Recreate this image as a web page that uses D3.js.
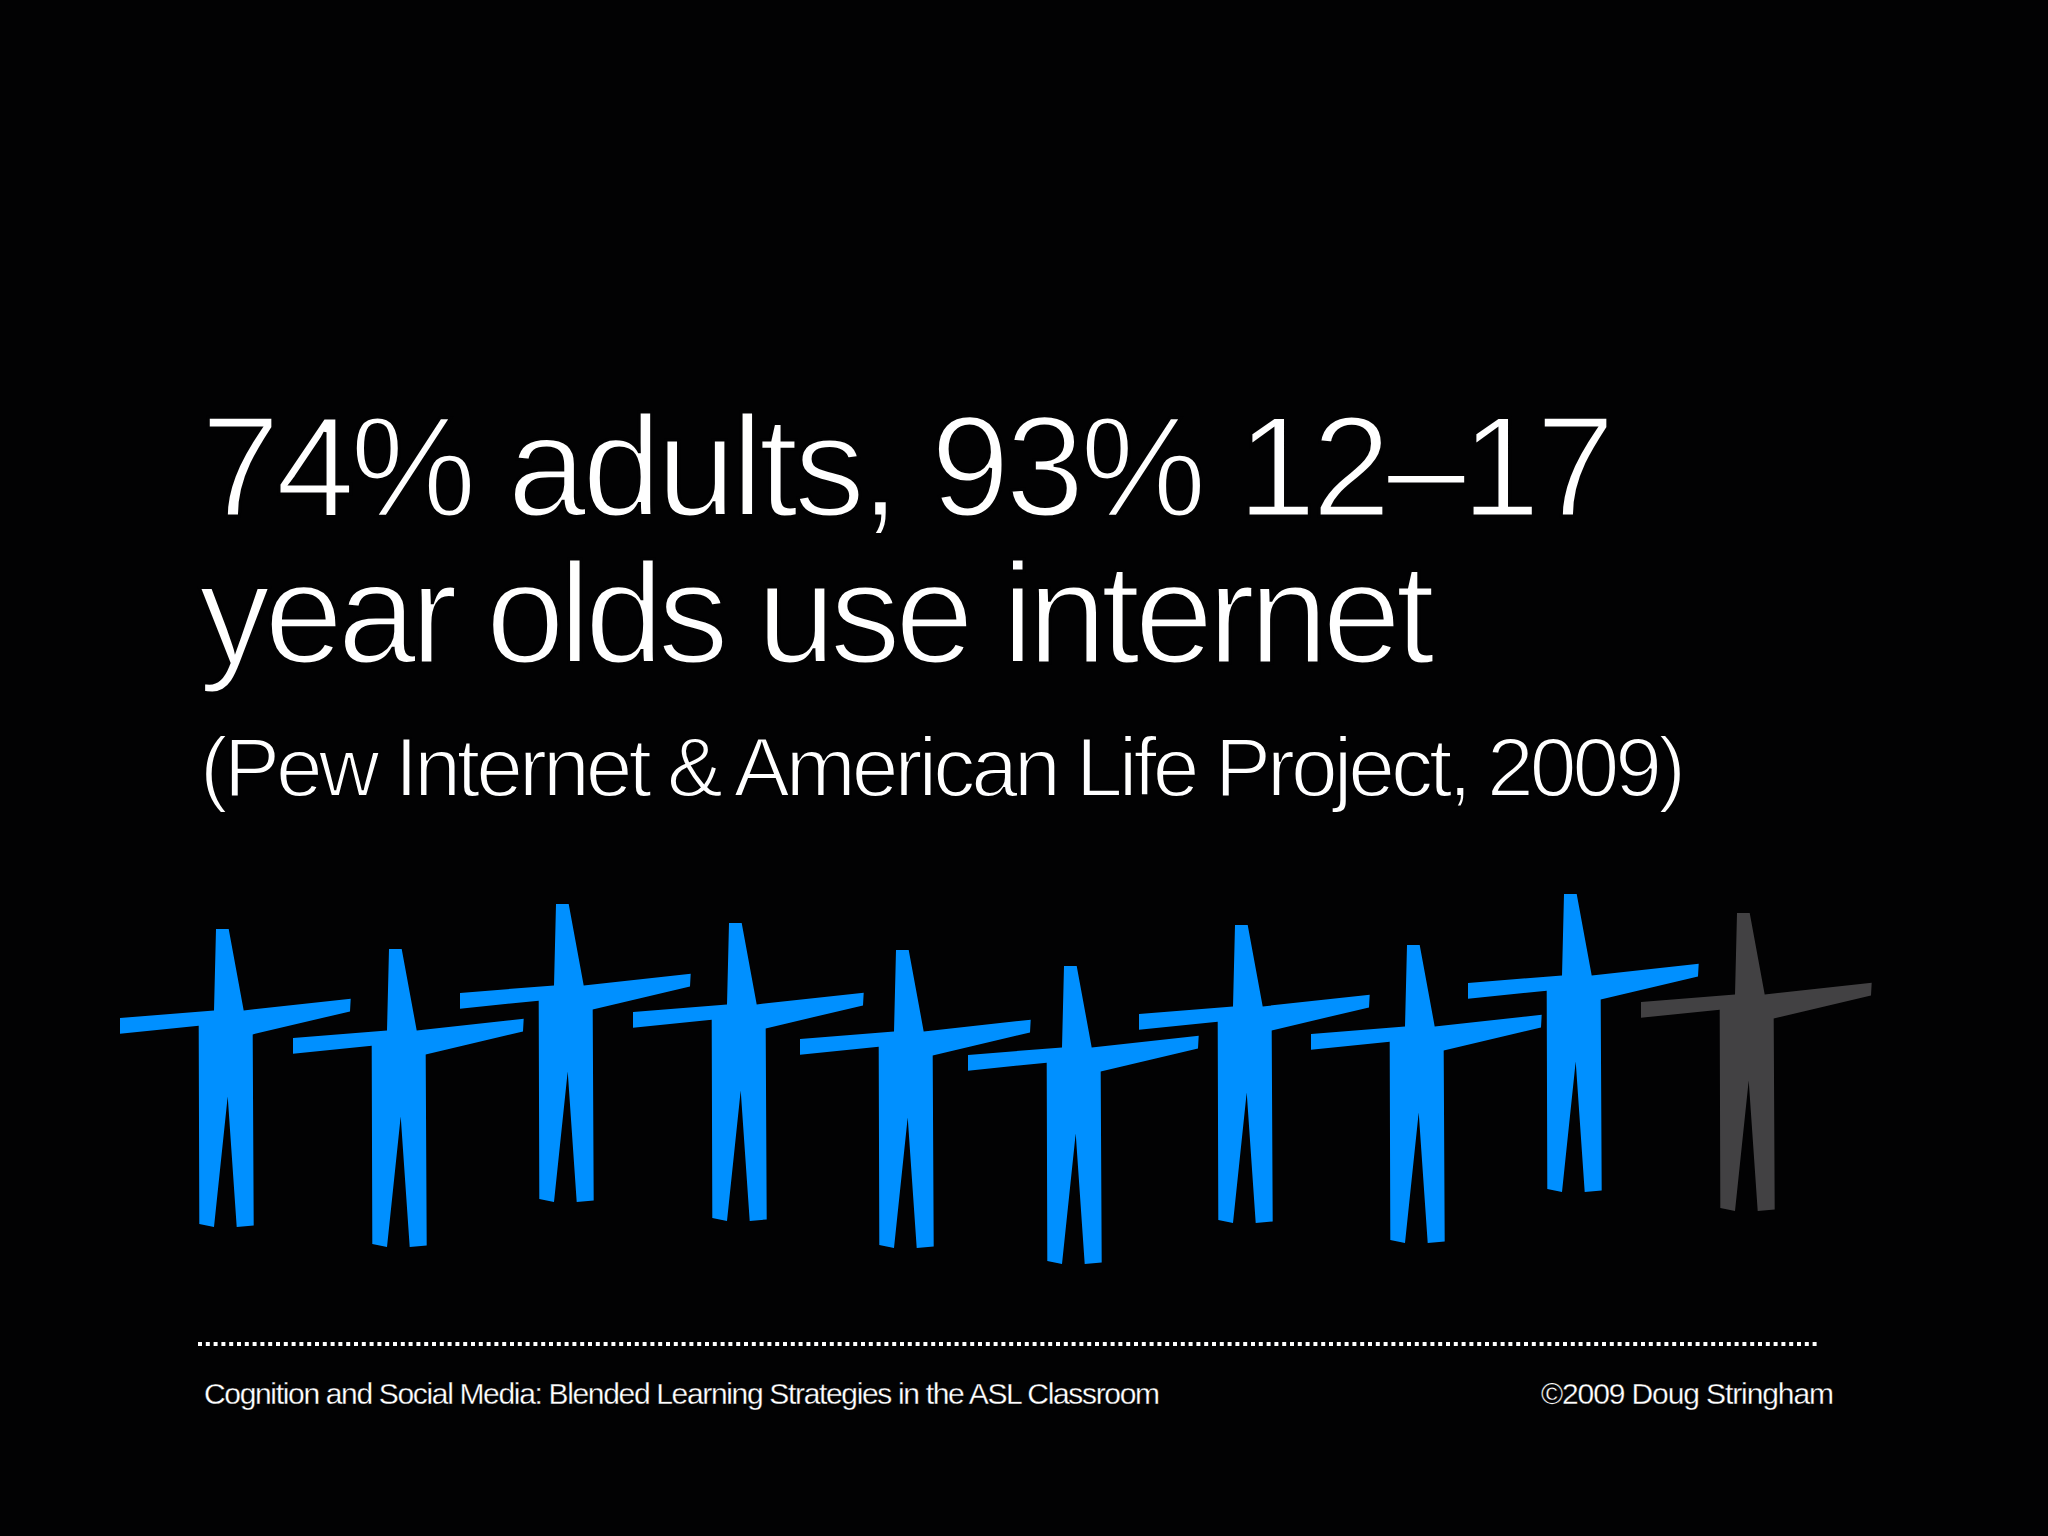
<!DOCTYPE html>
<html>
<head>
<meta charset="utf-8">
<script src="https://cdn.jsdelivr.net/npm/d3@7"></script>
<style>
  html, body { margin: 0; padding: 0; background: #020203; }
  svg { display: block; }
  text { font-family: "Liberation Sans", sans-serif; fill: #fff; stroke: #020203; paint-order: fill stroke; }
</style>
</head>
<body>
<svg id="slide" width="2048" height="1536"></svg>
<script>
'use strict';

const titleLines = ['74% adults, 93% 12–17', 'year olds use internet'];
const source = '(Pew Internet & American Life Project, 2009)';
const footerLeft = 'Cognition and Social Media: Blended Learning Strategies in the ASL Classroom';
const footerRight = '©2009 Doug Stringham';

// one figure per ten people, last one is the share not online
const people = [1, 2, 3, 4, 5, 6, 7, 8, 9, 10];
const online = [true, true, true, true, true, true, true, true, true, false];

// how far each figure sits from the regular row
const nudgeX = [0, 4, 2, 6, 4, 3, 5, 8, -4, 0];
const nudgeY = [0, 20, -25, -6, 21, 37, -4, 16, -35, -16];

const svg = d3.select('#slide');

const x = d3.scalePoint().domain(people).range([216, 1737]);
const y = d3.scaleLinear().domain([0, 1]).range([929, 930]);

// silhouette, measured from the top left corner of the head
const outline = [
  [0, 0], [12.7, 0], [27.7, 81.4], [134.7, 69.7], [134, 82.4], [36.7, 105.4],
  [37.7, 296.4], [20.7, 298], [11.7, 167.4], [-2, 298], [-16.7, 295], [-17.3, 96.7],
  [-96, 104.7], [-96, 89], [-2, 81.4]
];

const line = d3.line().curve(d3.curveLinearClosed);

svg.append('g')
  .selectAll('path')
  .data(people)
  .enter().append('path')
  .attr('d', line(outline))
  .attr('fill', (d, i) => online[i] ? '#0090ff' : '#424143')
  .attr('transform', (d, i) => `translate(${x(d) + nudgeX[i]},${y(0) + nudgeY[i]})`);

function label(str, left, base, size, len, thin) {
  svg.append('text')
    .attr('x', left)
    .attr('y', base)
    .attr('font-size', size)
    .attr('stroke-width', thin)
    .attr('textLength', len)
    .attr('lengthAdjust', 'spacing')
    .text(str);
}

label(titleLines[0], 201, 516, 142, 1414, 3);
label(titleLines[1], 199, 663, 142, 1236, 3);
label(source, 200, 796, 84, 1486, 2);
label(footerLeft, 204, 1404, 30, 956, 0.3);
label(footerRight, 1541, 1404, 30, 293, 0.3);

svg.append('line')
  .attr('x1', 198)
  .attr('x2', 1820)
  .attr('y1', 1344)
  .attr('y2', 1344)
  .attr('stroke', '#fff')
  .attr('stroke-width', 4)
  .attr('stroke-dasharray', '4 3.8');
</script>
</body>
</html>
